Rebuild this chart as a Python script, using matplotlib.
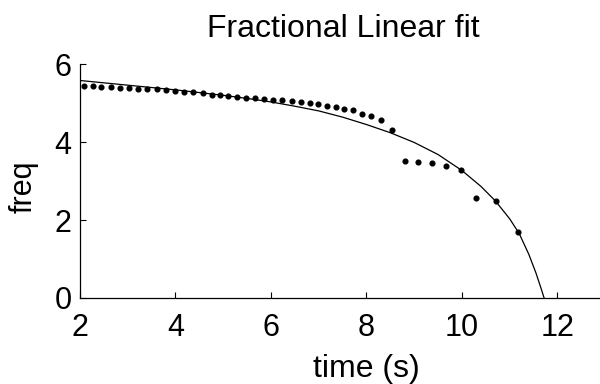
"""Fractional linear fit of freq vs time: measured points plus the fitted curve."""
import matplotlib

matplotlib.use("Agg")
import matplotlib.pyplot as plt

t_data = [2.08, 2.27, 2.45, 2.64, 2.84, 3.03, 3.22, 3.41, 3.61, 3.80,
          3.99, 4.18, 4.37, 4.57, 4.76, 4.93, 5.11, 5.28, 5.48, 5.66,
          5.85, 6.05, 6.24, 6.43, 6.62, 6.82, 6.99, 7.17, 7.36, 7.53,
          7.71, 7.90, 8.10, 8.31, 8.54, 8.81, 9.08, 9.37, 9.66, 9.97,
          10.30, 10.71, 11.18]
f_data = [5.44, 5.43, 5.42, 5.41, 5.40, 5.38, 5.37, 5.36, 5.35, 5.33,
          5.31, 5.29, 5.28, 5.26, 5.22, 5.21, 5.19, 5.16, 5.14, 5.12,
          5.10, 5.08, 5.07, 5.05, 5.02, 4.99, 4.97, 4.93, 4.90, 4.86,
          4.82, 4.72, 4.67, 4.56, 4.31, 3.52, 3.49, 3.46, 3.38, 3.28,
          2.56, 2.48, 1.69]

# fitted curve (sampled off the figure)
t_fit = [2.0, 2.5, 3.0, 3.5, 4.0, 4.5, 5.0, 5.5, 6.0, 6.5, 7.0, 7.5,
         8.0, 8.5, 9.0, 9.5, 10.0, 10.4, 10.7, 11.0, 11.2, 11.4, 11.55,
         11.65, 11.72]
f_fit = [5.58, 5.52, 5.46, 5.40, 5.34, 5.27, 5.20, 5.12, 5.03, 4.92,
         4.80, 4.64, 4.45, 4.24, 3.99, 3.68, 3.27, 2.86, 2.49, 2.03,
         1.65, 1.12, 0.64, 0.27, 0.0]

plt.rcParams["font.family"] = ["Liberation Sans", "DejaVu Sans"]

fig = plt.figure(figsize=(6.0, 3.84), dpi=100)
ax = fig.add_axes([0.1333, 0.224, 0.8754, 0.609])

ax.plot(t_fit, f_fit, color="black", linewidth=0.9)
ax.plot(t_data, f_data, linestyle="none", marker="o", markersize=3.4,
        color="black")

ax.set_xlim(2, 13)
ax.set_ylim(0, 6)
ax.set_xticks([2, 4, 6, 8, 10, 12])
ax.set_yticks([0, 2, 4, 6])
ax.tick_params(direction="in", length=4, width=0.8, labelsize=22)
ax.tick_params(axis="x", pad=11)
ax.tick_params(axis="y", pad=6)
for side in ("top", "right"):
    ax.spines[side].set_visible(False)
for side in ("left", "bottom"):
    ax.spines[side].set_linewidth(0.9)

ax.set_xlabel("time (s)", fontsize=23)
ax.xaxis.set_label_coords(0.545, -0.24)
ax.set_ylabel("freq", fontsize=22)
ax.yaxis.set_label_coords(-0.078, 0.474)

# title sits a bit left of the axes centre in the original
fig.text(0.573, 0.924, "Fractional Linear fit", fontsize=23,
         ha="center", va="center")

fig.savefig("out.png", dpi=100)
plt.close(fig)
